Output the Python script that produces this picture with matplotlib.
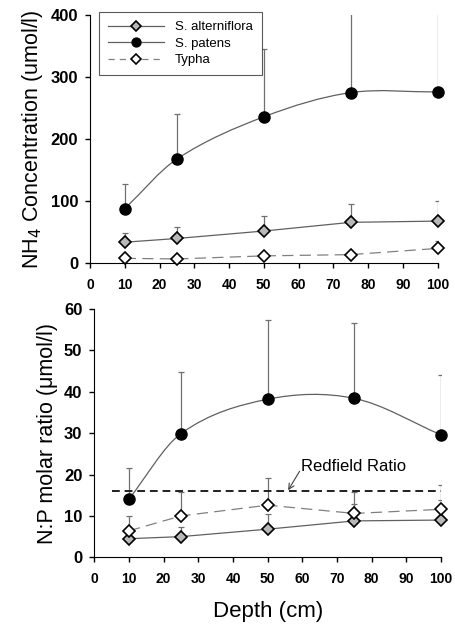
import matplotlib
matplotlib.use("Agg")
import matplotlib.pyplot as plt
from matplotlib.path import Path
from matplotlib.patches import PathPatch
from matplotlib.lines import Line2D
import numpy as np

plt.rcParams['font.family'] = ['Liberation Sans', 'DejaVu Sans']

depth = [10, 25, 50, 75, 100]

# NH4 concentration (umol/l) and upper end of the error bars
nh4_alt = [34, 40, 52, 66, 68]
nh4_alt_hi = [49, 58, 77, 95, 100]
nh4_pat = [88, 168, 236, 275, 276]
nh4_pat_hi = [127, 241, 346, 430, 430]
nh4_typ = [8, 7, 12, 14, 24]
nh4_typ_hi = [8, 7, 12, 14, 36]

# N:P molar ratio
np_alt = [4.5, 5.0, 6.8, 8.8, 9.0]
np_alt_hi = [4.5, 7.4, 10.4, 13.0, 13.8]
np_pat = [14.1, 29.9, 38.2, 38.4, 29.6]
np_pat_hi = [21.5, 44.7, 57.3, 56.7, 44.0]
np_typ = [6.4, 10.0, 12.6, 10.6, 11.6]
np_typ_hi = [10.0, 15.7, 19.2, 15.7, 17.5]

redfield = 16
labels = ['S. alterniflora', 'S. patens', 'Typha']

LINE = '#606060'
ERR = '#707070'
GREY = '#b8b8b8'


def smooth_path(x, y):
    # cubic bezier through the points (finite-difference tangents)
    x = np.asarray(x, float)
    y = np.asarray(y, float)
    n = len(x)
    m = np.zeros(n)
    m[0] = (y[1] - y[0]) / (x[1] - x[0])
    m[-1] = (y[-1] - y[-2]) / (x[-1] - x[-2])
    for i in range(1, n - 1):
        m[i] = (y[i + 1] - y[i - 1]) / (x[i + 1] - x[i - 1])
    verts = [(x[0], y[0])]
    codes = [Path.MOVETO]
    for i in range(n - 1):
        h = x[i + 1] - x[i]
        verts += [(x[i] + h / 3, y[i] + m[i] * h / 3),
                  (x[i + 1] - h / 3, y[i + 1] - m[i + 1] * h / 3),
                  (x[i + 1], y[i + 1])]
        codes += [Path.CURVE4] * 3
    return Path(verts, codes)


def panel(ax, alt, alt_hi, pat, pat_hi, typ, typ_hi):
    for vals, hi in ((alt, alt_hi), (pat, pat_hi), (typ, typ_hi)):
        up = [h - v for h, v in zip(hi, vals)]
        ax.errorbar(depth, vals, yerr=[[0] * len(vals), up], fmt='none',
                    ecolor=ERR, elinewidth=0.9, capsize=2.5, capthick=0.9, zorder=2)
    ax.plot(depth, alt, color=LINE, lw=0.9, zorder=3)
    ax.add_patch(PathPatch(smooth_path(depth, pat), fill=False, edgecolor=LINE,
                           lw=0.9, zorder=3))
    ax.plot(depth, typ, color='#808080', lw=0.9, ls=(0, (9, 5)), zorder=3)
    ax.plot(depth, alt, ls='none', marker='D', ms=6.6, mfc=GREY, mec='black',
            mew=1.2, zorder=5, clip_on=False)
    ax.plot(depth, pat, ls='none', marker='o', ms=8, mfc='black', mec='black',
            zorder=5, clip_on=False)
    ax.plot(depth, typ, ls='none', marker='D', ms=6.6, mfc='white', mec='black',
            mew=1.2, zorder=5, clip_on=False)

    ax.set_xlim(0, 100)
    ax.set_xticks(range(0, 101, 10))
    for s in ('top', 'right'):
        ax.spines[s].set_visible(False)
    ax.tick_params(direction='out', length=3.6, width=1)
    ax.tick_params(axis='x', labelsize=10, pad=7)
    ax.tick_params(axis='y', labelsize=12, pad=5)
    for t in ax.get_xticklabels() + ax.get_yticklabels():
        t.set_fontweight('bold')


fig = plt.figure(figsize=(4.55, 6.25), dpi=100)
ax1 = fig.add_axes([0.1978, 0.5787, 0.764, 0.3973])
ax2 = fig.add_axes([0.2073, 0.1083, 0.762, 0.3973])

panel(ax1, nh4_alt, nh4_alt_hi, nh4_pat, nh4_pat_hi, nh4_typ, nh4_typ_hi)
ax1.set_ylim(0, 400)
ax1.set_yticks(range(0, 401, 100))
ax1.set_ylabel('NH$_4$ Concentration (umol/l)', fontsize=15.5, labelpad=4)

handles = [
    Line2D([], [], color=LINE, lw=0.9, marker='D', ms=6.6, mfc=GREY, mec='black', mew=1.2),
    Line2D([], [], color=LINE, lw=0.9, marker='o', ms=8, mfc='black', mec='black'),
    Line2D([], [], color='#808080', lw=0.9, ls=(0, (5, 4)), marker='D', ms=6.6,
           mfc='white', mec='black', mew=1.2),
]
leg = ax1.legend(handles, labels, loc='upper left', bbox_to_anchor=(0.0267, 1.011),
                 borderaxespad=0, fontsize=9.5, handlelength=4.2, handletextpad=0.85,
                 labelspacing=0.32, borderpad=0.68, markerscale=0.8,
                 frameon=True, fancybox=False)
leg.get_frame().set_edgecolor('#303030')
leg.get_frame().set_linewidth(0.8)

panel(ax2, np_alt, np_alt_hi, np_pat, np_pat_hi, np_typ, np_typ_hi)
ax2.set_ylim(0, 60)
ax2.set_yticks(range(0, 61, 10))
ax2.plot([5, 100], [redfield, redfield], color='#202020', lw=1.4,
         ls=(0, (4, 2.5)), zorder=4)
ax2.annotate('', xy=(55.9, redfield + 0.2), xytext=(59.2, 20.8),
             arrowprops=dict(arrowstyle='->', color='#404040', lw=0.8,
                             shrinkA=0, shrinkB=0))
ax2.text(59.6, 22.0, 'Redfield Ratio', fontsize=12, va='center', ha='left')
ax2.set_ylabel('N:P molar ratio (\u03bcmol/l)', fontsize=15.5, labelpad=4)
ax2.set_xlabel('Depth (cm)', fontsize=16, labelpad=11)

fig.savefig('out.png', dpi=100)
